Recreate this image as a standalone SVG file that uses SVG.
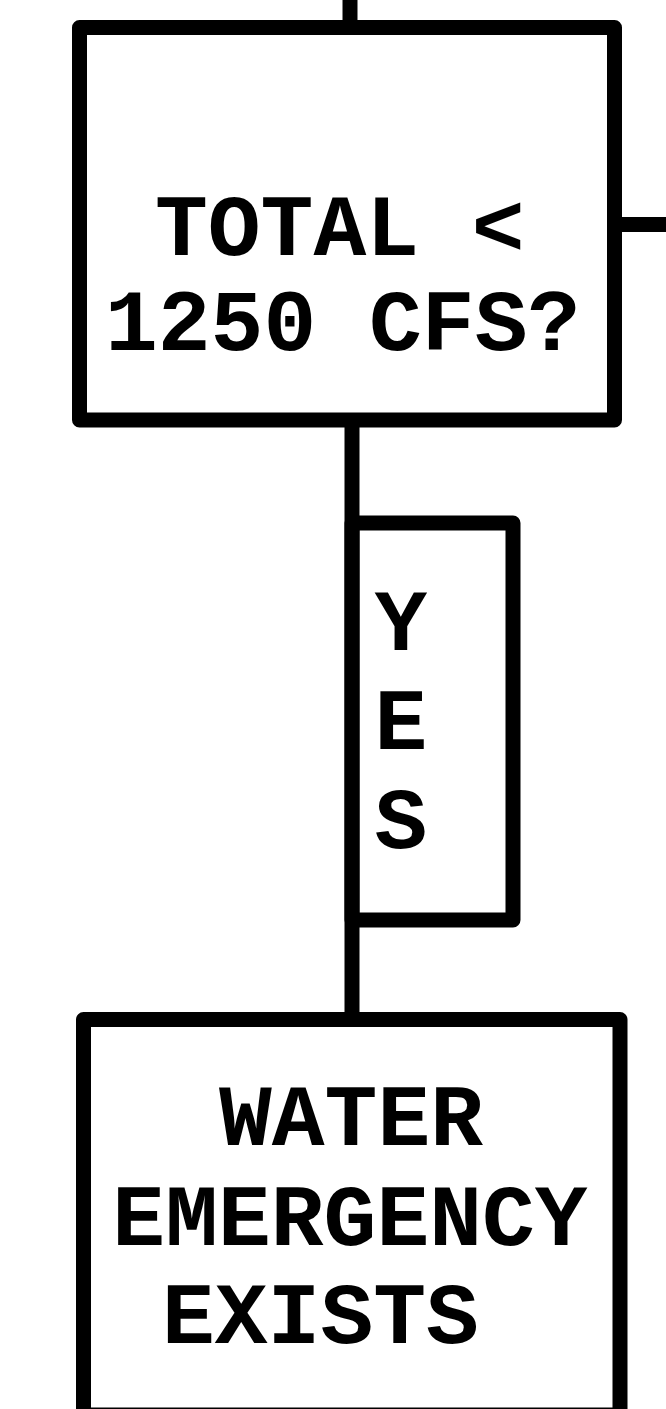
<svg xmlns="http://www.w3.org/2000/svg" width="666" height="1409" viewBox="0 0 666 1409">
<style>
.box{fill:#fff;stroke:#000;stroke-width:15;stroke-linejoin:round}
.ln{stroke:#000;stroke-width:15;fill:none}
.t{font-family:"Liberation Mono","DejaVu Sans Mono",monospace;font-weight:bold;font-size:88px;fill:#000}
.m{text-anchor:middle}
</style>
<rect width="666" height="1409" fill="#fff"/>
<g id="connectors">
<line class="ln" x1="350" y1="0" x2="350" y2="28"/>
<line class="ln" x1="615" y1="224.5" x2="666" y2="224.5"/>
<line class="ln" x1="352" y1="420" x2="352" y2="1020"/>
</g>
<g id="node-total">
<rect class="box" x="79.5" y="27.5" width="535" height="392.5"/>
<text class="t" x="155" y="255">TOTAL &lt;</text>
<text class="t" x="105" y="350">1250 CFS?</text>
</g>
<g id="label-yes">
<rect class="box" x="352" y="523" width="161" height="397" fill="none" style="fill:none"/>
<text class="t m" x="401" y="650">Y</text>
<text class="t m" x="401" y="749">E</text>
<text class="t m" x="401" y="848">S</text>
</g>
<g id="node-emergency">
<rect class="box" x="83.5" y="1019.5" width="536.5" height="395.5"/>
<text class="t m" x="351" y="1145">WATER</text>
<text class="t m" x="350" y="1245">EMERGENCY</text>
<text class="t" x="162" y="1343">EXISTS</text>
</g>
</svg>
